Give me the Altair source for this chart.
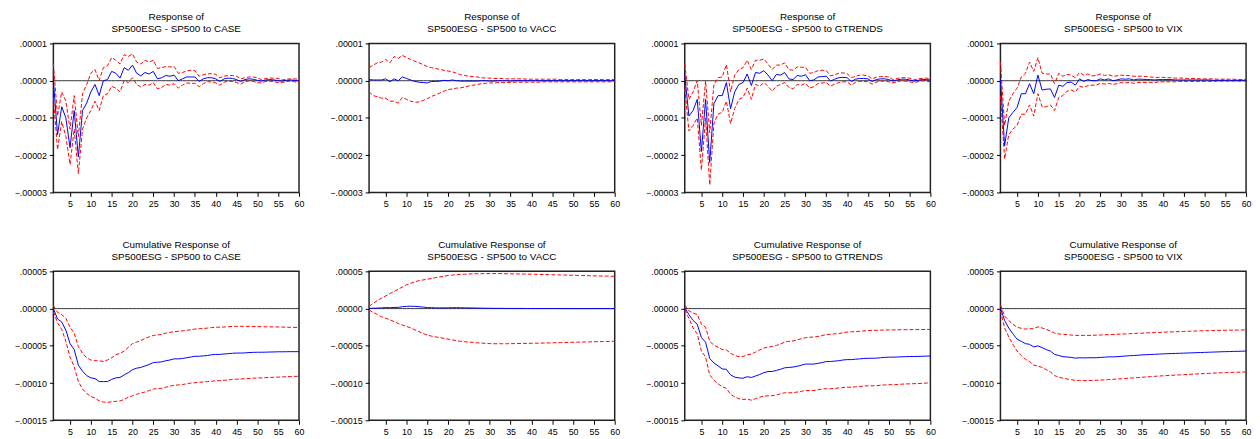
import altair as alt
import pandas as pd

SCALE = 1e-5
PERIODS = list(range(1, 61))

# ---------------- Response (units of 1e-5) ----------------
CASE_R = [0.0, -1.45, -0.7, -1.0, -1.8, -0.8, -2.05, -0.8, -0.6, -0.3,
          -0.1, -0.4, 0.0, 0.03, 0.25, 0.2, 0.07, 0.35, 0.28, 0.42,
          0.2, 0.13, 0.22, 0.18, 0.25, 0.05, 0.08, 0.14, 0.12, 0.15,
          0.0, 0.05, 0.1, 0.1, 0.1, -0.02, 0.05, 0.08, 0.08, 0.05,
          -0.02, 0.05, 0.07, 0.06, 0.03, -0.02, 0.03, 0.05, 0.04, 0.01,
          -0.01, 0.02, 0.03, 0.02, 0.0, -0.01, 0.01, 0.02, 0.01, -0.01]
CASE_U = [0.45, -0.95, -0.3, -0.55, -1.3, -0.4, -1.5, -0.35, -0.1, 0.2,
          0.3, 0.0, 0.35, 0.4, 0.62, 0.55, 0.45, 0.7, 0.65, 0.72,
          0.5, 0.45, 0.55, 0.5, 0.55, 0.33, 0.35, 0.38, 0.37, 0.38,
          0.2, 0.22, 0.26, 0.28, 0.27, 0.12, 0.16, 0.18, 0.19, 0.17,
          0.08, 0.12, 0.14, 0.14, 0.12, 0.05, 0.08, 0.1, 0.1, 0.08,
          0.03, 0.06, 0.07, 0.07, 0.06, 0.02, 0.04, 0.05, 0.05, 0.04]
CASE_L = [-0.45, -1.85, -1.1, -1.5, -2.25, -1.3, -2.5, -1.3, -1.0, -0.8,
          -0.55, -0.8, -0.4, -0.35, -0.15, -0.2, -0.3, 0.0, -0.05, 0.08,
          -0.1, -0.17, -0.1, -0.12, -0.05, -0.22, -0.18, -0.1, -0.12, -0.08,
          -0.2, -0.12, -0.06, -0.07, -0.07, -0.16, -0.08, -0.03, -0.03, -0.06,
          -0.12, -0.04, -0.01, -0.02, -0.05, -0.09, -0.03, 0.0, -0.02, -0.05,
          -0.06, -0.02, -0.01, -0.03, -0.05, -0.05, -0.02, -0.01, -0.03, -0.05]

VACC_R = [0.03, 0.02, 0.02, 0.02, 0.05, -0.03, 0.05, 0.0, 0.1, 0.06,
          0.02, -0.02, -0.04, -0.05, -0.06, -0.02, -0.02, -0.01, 0.01, 0.0,
          0.02, 0.0, -0.01, -0.01, -0.01, -0.01, -0.01, 0.0, 0.0, -0.01,
          -0.01, 0.0, 0.0, 0.0, -0.01, 0.0, 0.0, 0.0, 0.0, 0.0,
          0.0, 0.0, 0.0, 0.0, 0.0, 0.0, 0.0, 0.0, 0.0, 0.0,
          0.0, 0.0, 0.0, 0.0, 0.0, 0.0, 0.0, 0.0, 0.0, 0.0]
VACC_U = [0.35, 0.42, 0.48, 0.5, 0.57, 0.48, 0.65, 0.6, 0.68, 0.62,
          0.57, 0.52, 0.48, 0.43, 0.38, 0.35, 0.33, 0.3, 0.28, 0.26,
          0.24, 0.2, 0.16, 0.14, 0.12, 0.11, 0.1, 0.08, 0.07, 0.07,
          0.06, 0.06, 0.06, 0.05, 0.05, 0.05, 0.05, 0.05, 0.04, 0.04,
          0.04, 0.04, 0.04, 0.04, 0.04, 0.04, 0.03, 0.03, 0.03, 0.03,
          0.03, 0.03, 0.03, 0.03, 0.03, 0.03, 0.03, 0.03, 0.03, 0.03]
VACC_L = [-0.3, -0.4, -0.43, -0.47, -0.47, -0.55, -0.55, -0.6, -0.45, -0.5,
          -0.55, -0.58, -0.57, -0.53, -0.48, -0.42, -0.38, -0.33, -0.28, -0.24,
          -0.22, -0.2, -0.19, -0.17, -0.14, -0.12, -0.1, -0.08, -0.07, -0.06,
          -0.06, -0.05, -0.05, -0.05, -0.05, -0.04, -0.04, -0.04, -0.04, -0.04,
          -0.04, -0.04, -0.03, -0.03, -0.03, -0.03, -0.03, -0.03, -0.03, -0.03,
          -0.03, -0.03, -0.03, -0.03, -0.03, -0.03, -0.03, -0.03, -0.03, -0.03]

GT_R = [0.15, -0.95, -0.8, -0.5, -1.9, -0.5, -2.2, -0.62, -0.4, -0.4,
        -0.05, -0.75, -0.3, -0.1, -0.05, 0.18, -0.13, 0.22, 0.2, 0.27,
        0.15, 0.0, 0.17, 0.15, 0.22, 0.05, 0.03, 0.14, 0.12, 0.16,
        0.0, 0.02, 0.1, 0.11, 0.12, -0.01, 0.04, 0.08, 0.09, 0.08,
        -0.02, 0.04, 0.06, 0.06, 0.05, -0.02, 0.03, 0.05, 0.05, 0.03,
        -0.01, 0.02, 0.04, 0.04, 0.02, -0.01, 0.01, 0.03, 0.03, 0.02]
GT_U = [0.45, -0.5, -0.3, 0.0, -1.2, 0.0, -1.4, -0.1, 0.08, 0.1,
        0.43, -0.3, 0.15, 0.3, 0.35, 0.55, 0.3, 0.55, 0.55, 0.58,
        0.45, 0.3, 0.42, 0.42, 0.48, 0.3, 0.28, 0.37, 0.36, 0.36,
        0.2, 0.22, 0.27, 0.28, 0.27, 0.13, 0.16, 0.2, 0.21, 0.19,
        0.08, 0.12, 0.15, 0.15, 0.13, 0.05, 0.09, 0.11, 0.11, 0.1,
        0.03, 0.06, 0.08, 0.08, 0.07, 0.02, 0.05, 0.06, 0.07, 0.05]
GT_L = [-0.2, -1.35, -1.2, -1.0, -2.4, -1.0, -2.8, -1.15, -0.9, -0.85,
        -0.55, -1.15, -0.75, -0.5, -0.45, -0.2, -0.5, -0.1, -0.15, -0.05,
        -0.15, -0.28, -0.15, -0.1, -0.05, -0.18, -0.22, -0.1, -0.12, -0.07,
        -0.2, -0.16, -0.08, -0.06, -0.05, -0.15, -0.09, -0.05, -0.03, -0.03,
        -0.12, -0.05, -0.02, -0.02, -0.03, -0.09, -0.04, -0.01, -0.01, -0.03,
        -0.06, -0.03, 0.0, -0.01, -0.03, -0.05, -0.03, 0.0, -0.01, -0.03]

VIX_R = [0.05, -1.75, -1.0, -0.85, -0.72, -0.35, -0.35, -0.08, -0.35, 0.15,
         -0.25, -0.23, -0.22, -0.45, -0.12, -0.15, -0.05, -0.04, -0.12, 0.05,
         -0.02, 0.03, 0.0, 0.0, 0.05, 0.02, 0.05, 0.0, 0.02, 0.05,
         0.04, 0.05, 0.02, 0.04, 0.04, 0.03, 0.03, 0.02, 0.03, 0.03,
         0.03, 0.03, 0.02, 0.02, 0.02, 0.02, 0.02, 0.02, 0.02, 0.02,
         0.02, 0.01, 0.01, 0.01, 0.01, 0.01, 0.01, 0.01, 0.01, 0.01]
VIX_U = [0.5, -1.2, -0.55, -0.35, -0.2, 0.1, 0.2, 0.5, 0.25, 0.62,
         0.2, 0.18, 0.18, -0.08, 0.2, 0.12, 0.17, 0.15, 0.08, 0.22,
         0.15, 0.18, 0.13, 0.14, 0.18, 0.14, 0.16, 0.12, 0.13, 0.15,
         0.14, 0.14, 0.12, 0.12, 0.12, 0.11, 0.1, 0.09, 0.09, 0.09,
         0.08, 0.08, 0.07, 0.07, 0.07, 0.06, 0.06, 0.06, 0.05, 0.05,
         0.05, 0.05, 0.04, 0.04, 0.04, 0.04, 0.04, 0.03, 0.03, 0.03]
VIX_L = [-0.4, -2.1, -1.45, -1.3, -1.2, -0.9, -0.9, -0.65, -0.95, -0.35,
         -0.7, -0.7, -0.65, -0.8, -0.45, -0.4, -0.28, -0.25, -0.3, -0.15,
         -0.18, -0.13, -0.12, -0.12, -0.07, -0.09, -0.07, -0.1, -0.08, -0.05,
         -0.06, -0.05, -0.07, -0.05, -0.05, -0.05, -0.05, -0.05, -0.03, -0.03,
         -0.03, -0.03, -0.03, -0.02, -0.02, -0.02, -0.02, -0.02, -0.02, -0.02,
         -0.02, -0.02, -0.01, -0.01, -0.01, -0.01, -0.01, -0.01, -0.01, -0.01]

# ---------------- Cumulative response (units of 1e-5) ----------------
CCASE_R = [0.0, -1.4, -1.8, -2.9, -4.7, -5.5, -7.6, -8.4, -9.0, -9.3,
           -9.4, -9.8, -9.8, -9.8, -9.5, -9.3, -9.25, -8.9, -8.6, -8.2,
           -8.0, -7.9, -7.7, -7.5, -7.25, -7.2, -7.15, -7.0, -6.9, -6.75,
           -6.75, -6.7, -6.6, -6.5, -6.4, -6.4, -6.35, -6.3, -6.2, -6.15,
           -6.15, -6.1, -6.05, -6.0, -5.97, -5.97, -5.95, -5.9, -5.88, -5.86,
           -5.86, -5.85, -5.83, -5.82, -5.8, -5.8, -5.79, -5.78, -5.78, -5.78]
CCASE_U = [0.4, -0.5, -0.8, -1.3, -2.5, -3.3, -5.1, -6.0, -6.6, -6.9,
           -7.0, -7.0, -7.1, -6.9, -6.6, -6.2, -6.0, -5.7, -5.2, -4.7,
           -4.5, -4.3, -4.0, -3.8, -3.6, -3.55, -3.45, -3.3, -3.2, -3.1,
           -3.05, -3.0, -2.9, -2.85, -2.75, -2.7, -2.68, -2.62, -2.55, -2.5,
           -2.5, -2.47, -2.43, -2.4, -2.38, -2.38, -2.38, -2.38, -2.4, -2.42,
           -2.43, -2.44, -2.45, -2.46, -2.47, -2.48, -2.5, -2.52, -2.53, -2.55]
CCASE_L = [-0.4, -1.9, -2.8, -4.4, -6.5, -7.8, -9.8, -10.8, -11.4, -11.8,
           -12.0, -12.4, -12.55, -12.6, -12.5, -12.45, -12.4, -12.2, -11.9, -11.7,
           -11.5, -11.35, -11.2, -11.0, -10.8, -10.75, -10.7, -10.55, -10.4, -10.3,
           -10.25, -10.2, -10.1, -10.0, -9.95, -9.9, -9.85, -9.8, -9.75, -9.7,
           -9.68, -9.62, -9.58, -9.52, -9.48, -9.45, -9.42, -9.38, -9.35, -9.32,
           -9.3, -9.27, -9.25, -9.22, -9.2, -9.17, -9.15, -9.12, -9.1, -9.08]

CVACC_R = [0.03, 0.05, 0.07, 0.09, 0.14, 0.11, 0.16, 0.16, 0.26, 0.3,
           0.32, 0.3, 0.26, 0.2, 0.14, 0.12, 0.1, 0.09, 0.1, 0.1,
           0.12, 0.12, 0.11, 0.1, 0.09, 0.08, 0.07, 0.06, 0.05, 0.04,
           0.03, 0.03, 0.03, 0.02, 0.02, 0.02, 0.02, 0.02, 0.01, 0.01,
           0.01, 0.01, 0.01, 0.01, 0.01, 0.01, 0.0, 0.0, 0.0, 0.0,
           0.0, 0.0, 0.0, 0.0, 0.0, 0.0, 0.0, 0.0, 0.0, 0.0]
CVACC_U = [0.3, 0.7, 1.1, 1.4, 1.7, 2.0, 2.3, 2.6, 2.9, 3.2,
           3.4, 3.6, 3.75, 3.85, 3.95, 4.05, 4.15, 4.25, 4.35, 4.45,
           4.5, 4.55, 4.6, 4.62, 4.65, 4.67, 4.68, 4.69, 4.7, 4.7,
           4.7, 4.7, 4.69, 4.68, 4.67, 4.66, 4.65, 4.64, 4.63, 4.62,
           4.6, 4.59, 4.57, 4.56, 4.55, 4.53, 4.52, 4.5, 4.49, 4.47,
           4.46, 4.44, 4.43, 4.41, 4.4, 4.39, 4.37, 4.36, 4.35, 4.34]
CVACC_L = [-0.2, -0.5, -0.8, -1.1, -1.3, -1.5, -1.75, -2.0, -2.2, -2.4,
           -2.6, -2.85, -3.1, -3.35, -3.55, -3.7, -3.8, -3.9, -4.0, -4.1,
           -4.2, -4.3, -4.4, -4.45, -4.5, -4.55, -4.6, -4.63, -4.66, -4.7,
           -4.72, -4.72, -4.72, -4.72, -4.71, -4.7, -4.69, -4.68, -4.67, -4.66,
           -4.65, -4.64, -4.62, -4.61, -4.6, -4.58, -4.57, -4.55, -4.54, -4.52,
           -4.51, -4.5, -4.48, -4.47, -4.45, -4.44, -4.43, -4.41, -4.4, -4.38]

CGT_R = [0.15, -0.8, -1.6, -2.1, -3.9, -4.5, -6.7, -7.3, -7.7, -8.1,
         -8.15, -8.9, -9.2, -9.3, -9.35, -9.15, -9.25, -9.05, -8.85, -8.6,
         -8.45, -8.45, -8.3, -8.15, -7.95, -7.9, -7.85, -7.75, -7.6, -7.45,
         -7.45, -7.45, -7.35, -7.25, -7.1, -7.1, -7.05, -7.0, -6.9, -6.85,
         -6.85, -6.8, -6.75, -6.7, -6.67, -6.67, -6.65, -6.6, -6.55, -6.52,
         -6.52, -6.5, -6.48, -6.45, -6.43, -6.43, -6.42, -6.4, -6.38, -6.37]
CGT_U = [0.45, -0.3, -0.6, -0.8, -2.1, -2.5, -4.4, -4.9, -5.2, -5.5,
         -5.55, -6.0, -6.3, -6.45, -6.45, -6.2, -6.1, -5.85, -5.55, -5.3,
         -5.15, -5.1, -4.95, -4.75, -4.5, -4.4, -4.35, -4.2, -4.05, -3.9,
         -3.85, -3.82, -3.75, -3.62, -3.48, -3.45, -3.4, -3.35, -3.25, -3.15,
         -3.12, -3.1, -3.05, -3.0, -2.95, -2.93, -2.92, -2.9, -2.88, -2.87,
         -2.86, -2.85, -2.84, -2.83, -2.82, -2.82, -2.82, -2.81, -2.8, -2.8]
CGT_L = [-0.15, -1.3, -2.6, -3.4, -5.7, -6.5, -8.9, -9.6, -10.1, -10.5,
         -10.7, -11.5, -11.85, -12.1, -12.2, -12.15, -12.3, -12.1, -11.9, -11.75,
         -11.7, -11.7, -11.6, -11.45, -11.3, -11.3, -11.3, -11.2, -11.1, -11.0,
         -11.0, -11.0, -10.9, -10.8, -10.75, -10.75, -10.72, -10.65, -10.6, -10.55,
         -10.55, -10.5, -10.45, -10.4, -10.37, -10.37, -10.35, -10.3, -10.25, -10.22,
         -10.22, -10.2, -10.15, -10.12, -10.1, -10.08, -10.06, -10.04, -10.0, -9.98]

CVIX_R = [0.1, -1.6, -2.6, -3.4, -4.1, -4.4, -4.7, -4.8, -5.15, -5.0,
          -5.25, -5.5, -5.7, -6.15, -6.3, -6.45, -6.5, -6.55, -6.65, -6.6,
          -6.62, -6.6, -6.6, -6.6, -6.55, -6.53, -6.48, -6.48, -6.46, -6.41,
          -6.37, -6.32, -6.3, -6.26, -6.22, -6.19, -6.16, -6.14, -6.11, -6.08,
          -6.06, -6.04, -6.02, -6.0, -5.98, -5.96, -5.94, -5.92, -5.9, -5.88,
          -5.86, -5.84, -5.82, -5.8, -5.78, -5.77, -5.75, -5.74, -5.72, -5.7]
CVIX_U = [0.5, -1.0, -1.6, -2.1, -2.5, -2.65, -2.75, -2.7, -2.7, -2.45,
          -2.6, -2.8, -3.0, -3.3, -3.4, -3.45, -3.5, -3.55, -3.6, -3.6,
          -3.6, -3.6, -3.58, -3.57, -3.55, -3.52, -3.5, -3.48, -3.45, -3.42,
          -3.4, -3.37, -3.35, -3.32, -3.3, -3.27, -3.25, -3.22, -3.2, -3.17,
          -3.15, -3.13, -3.11, -3.09, -3.07, -3.05, -3.03, -3.01, -2.99, -2.97,
          -2.96, -2.94, -2.93, -2.92, -2.91, -2.9, -2.89, -2.88, -2.87, -2.86]
CVIX_L = [-0.3, -2.6, -3.8, -4.8, -5.7, -6.3, -6.8, -7.1, -7.6, -7.7,
          -7.9, -8.2, -8.5, -9.0, -9.2, -9.35, -9.45, -9.55, -9.62, -9.65,
          -9.66, -9.66, -9.65, -9.63, -9.6, -9.57, -9.53, -9.5, -9.46, -9.42,
          -9.38, -9.34, -9.3, -9.26, -9.22, -9.18, -9.14, -9.1, -9.06, -9.02,
          -8.99, -8.96, -8.93, -8.9, -8.87, -8.84, -8.81, -8.78, -8.75, -8.72,
          -8.7, -8.67, -8.65, -8.62, -8.6, -8.58, -8.56, -8.54, -8.52, -8.5]

SHOCKS = ["CASE", "VACC", "GTRENDS", "VIX"]
TOP = [(CASE_R, CASE_U, CASE_L), (VACC_R, VACC_U, VACC_L),
       (GT_R, GT_U, GT_L), (VIX_R, VIX_U, VIX_L)]
BOTTOM = [(CCASE_R, CCASE_U, CCASE_L), (CVACC_R, CVACC_U, CVACC_L),
          (CGT_R, CGT_U, CGT_L), (CVIX_R, CVIX_U, CVIX_L)]
TOP_TICKS = [1, 0, -1, -2, -3]
BOTTOM_TICKS = [5, 0, -5, -10, -15]
X_TICKS = list(range(5, 61, 5))

LABEL_EXPR = "replace(format(datum.value, '.5f'), '0.', '.')"

W, H = 249, 151


def panel(title, series, ticks):
    r, u, l = series
    df = pd.DataFrame({
        "period": PERIODS * 3,
        "value": [v * SCALE for v in r + u + l],
        "band": ["resp"] * 60 + ["upper"] * 60 + ["lower"] * 60,
        "zero": [0.0] * 180,
    })
    tvals = [t * SCALE for t in ticks]
    dom = [min(tvals), max(tvals)]
    xscale = alt.Scale(domain=[1, 60], nice=False, zero=False)
    yscale = alt.Scale(domain=dom, nice=False, zero=False)
    xaxis = alt.Axis(values=X_TICKS, title=None, tickSize=4, labelPadding=3,
                     labelFlush=False, labelOverlap=False)
    yaxis = alt.Axis(values=tvals, title=None, tickSize=4, labelPadding=3,
                     labelExpr=LABEL_EXPR, labelOverlap=False, labelFlush=False)
    x = alt.X("period:Q", scale=xscale, axis=xaxis)
    y = alt.Y("value:Q", scale=yscale, axis=yaxis)
    base = alt.Chart(df)
    zero = base.transform_filter(alt.datum.band == "resp").mark_line(
        color="#333333", strokeWidth=1).encode(
        x=x, y=alt.Y("zero:Q", scale=yscale, axis=yaxis))
    resp = base.transform_filter(alt.datum.band == "resp").mark_line(
        color="#0000ff", strokeWidth=1).encode(x=x, y=y)
    up = base.transform_filter(alt.datum.band == "upper").mark_line(
        color="#ff0000", strokeWidth=1, strokeDash=[4, 2]).encode(x=x, y=y)
    lo = base.transform_filter(alt.datum.band == "lower").mark_line(
        color="#ff0000", strokeWidth=1, strokeDash=[4, 2]).encode(x=x, y=y)
    return alt.layer(zero, up, lo, resp).properties(
        width=W, height=H,
        title=alt.TitleParams(text=title, frame="group", anchor="middle",
                              fontSize=10, fontWeight="normal",
                              font="Liberation Sans", lineHeight=11.5, offset=6,
                              color="#000000"))


top_row = alt.hconcat(*[
    panel(["Response of", f"SP500ESG - SP500 to {s}"], TOP[i], TOP_TICKS)
    for i, s in enumerate(SHOCKS)], spacing=24)
bottom_row = alt.hconcat(*[
    panel(["Cumulative Response of", f"SP500ESG - SP500 to {s}"], BOTTOM[i], BOTTOM_TICKS)
    for i, s in enumerate(SHOCKS)], spacing=24)

chart = alt.vconcat(top_row, bottom_row, spacing=30).configure_view(
    stroke="#222222", strokeWidth=1.5
).configure_axis(
    domain=False, grid=False, labelFont="Liberation Sans", labelFontSize=9,
    labelColor="#000000", tickColor="#000000"
).properties(
    padding={"left": 5, "top": 0, "right": 0, "bottom": 0},
    background="white"
)

chart.save("out.html", embed_options={"renderer": "svg", "actions": False})
